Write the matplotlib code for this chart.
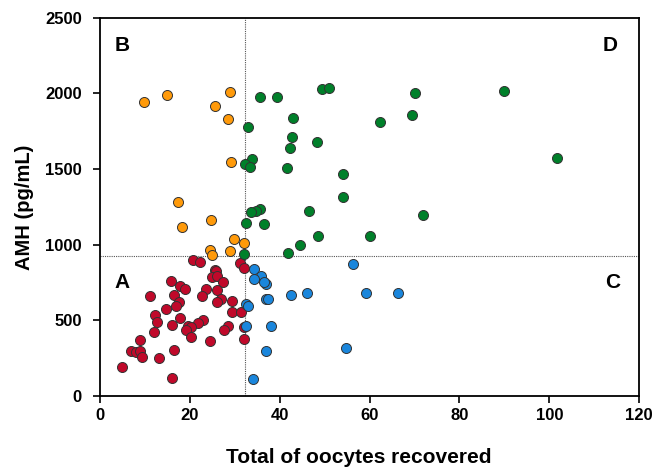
import matplotlib
matplotlib.use('Agg')
import matplotlib.pyplot as plt

plt.rcParams['font.family'] = ['Liberation Sans', 'DejaVu Sans']
plt.rcParams['font.weight'] = 'bold'

# Group A: low AMH, few oocytes
a_x = [20.6, 22.3, 31.2, 32.1, 25.5, 25.9, 24.9, 26.1, 27.3, 15.9, 17.9, 19.0, 23.6, 26.1,
       16.5, 11.2, 22.8, 26.9, 26.1, 29.3, 17.6, 16.9, 14.6, 29.3, 31.3, 12.2, 12.7, 17.9,
       22.9, 21.9, 16.1, 19.5, 20.3, 19.2, 28.6, 27.7, 32.0, 12.0, 20.3, 32.0, 24.4, 9.0,
       6.9, 8.0, 9.0, 9.3, 13.2, 16.4, 5.0, 16.0]
a_y = [897, 884, 882, 849, 833, 829, 789, 794, 754, 761, 728, 706, 706, 701,
       670, 661, 659, 641, 624, 630, 620, 595, 573, 558, 556, 534, 492, 518,
       500, 485, 470, 463, 458, 439, 463, 437, 458, 425, 392, 379, 364, 368,
       298, 293, 298, 256, 251, 306, 190, 119]

# Group B: high AMH, few oocytes
b_x = [9.9, 14.9, 28.9, 25.5, 28.4, 29.2, 17.3, 24.8, 18.3, 29.9, 32.0, 24.6, 28.9, 24.9]
b_y = [1945, 1991, 2011, 1918, 1830, 1548, 1283, 1164, 1120, 1038, 1010, 966, 955, 933]

# Group C: low AMH, many oocytes
c_x = [56.3, 34.3, 35.8, 34.3, 36.9, 36.5, 42.5, 46.1, 59.3, 66.4, 36.9, 37.5, 32.4, 33.0,
       38.0, 32.6, 54.8, 36.9, 34.1]
c_y = [871, 842, 792, 772, 741, 754, 670, 679, 679, 683, 640, 640, 608, 595,
       465, 461, 317, 300, 110]

# Group D: high AMH, many oocytes
d_x = [35.6, 39.4, 49.4, 50.9, 70.0, 69.4, 62.3, 43.0, 32.9, 42.8, 42.4, 48.3, 33.9, 32.3,
       33.3, 41.6, 54.0, 54.0, 71.8, 46.6, 35.6, 34.8, 33.7, 32.4, 36.5, 48.5, 60.0, 44.5,
       41.9, 32.1, 89.8, 101.6]
d_y = [1973, 1973, 2031, 2037, 2002, 1856, 1814, 1837, 1781, 1715, 1642, 1678, 1566, 1534,
       1512, 1510, 1468, 1314, 1199, 1222, 1239, 1225, 1213, 1144, 1138, 1056, 1058, 1001,
       946, 941, 2015, 1574]

cut_x = 32.3
cut_y = 925

fig = plt.figure(figsize=(6.53, 4.68), dpi=100)
ax = fig.add_axes([0.153, 0.154, 0.826, 0.808])

ax.axvline(cut_x, color='#555555', linestyle=(0, (1, 1)), linewidth=0.8, zorder=1)
ax.axhline(cut_y, color='#555555', linestyle=(0, (1, 1)), linewidth=0.8, zorder=1)

kw = dict(s=52, edgecolors='#333333', linewidths=0.7, zorder=3)
ax.scatter(a_x, a_y, color='#C0092A', **kw)
ax.scatter(b_x, b_y, color='#FF9A0A', **kw)
ax.scatter(c_x, c_y, color='#1A86DC', **kw)
ax.scatter(d_x, d_y, color='#00802A', **kw)

ax.set_xlim(0, 120)
ax.set_ylim(0, 2500)
ax.set_xticks(range(0, 121, 20))
ax.set_yticks(range(0, 2501, 500))
ax.tick_params(direction='out', length=5, width=1.2, labelsize=12)
ax.tick_params(axis='x', pad=4)
ax.tick_params(axis='y', pad=8)
for lab in ax.get_xticklabels() + ax.get_yticklabels():
    lab.set_fontweight('bold')
for sp in ax.spines.values():
    sp.set_linewidth(1.3)

ax.set_xlabel('Total of oocytes recovered', fontsize=15, fontweight='bold', labelpad=18, x=0.479)
ax.set_ylabel('AMH (pg/mL)', fontsize=14.5, fontweight='bold', labelpad=8)

for lbl, x, y in [('B', 5.0, 2320), ('D', 113.6, 2320), ('A', 5.0, 750), ('C', 114.0, 750)]:
    ax.text(x, y, lbl, fontsize=15, fontweight='bold', ha='center', va='center')

fig.savefig('out.png', dpi=100)
